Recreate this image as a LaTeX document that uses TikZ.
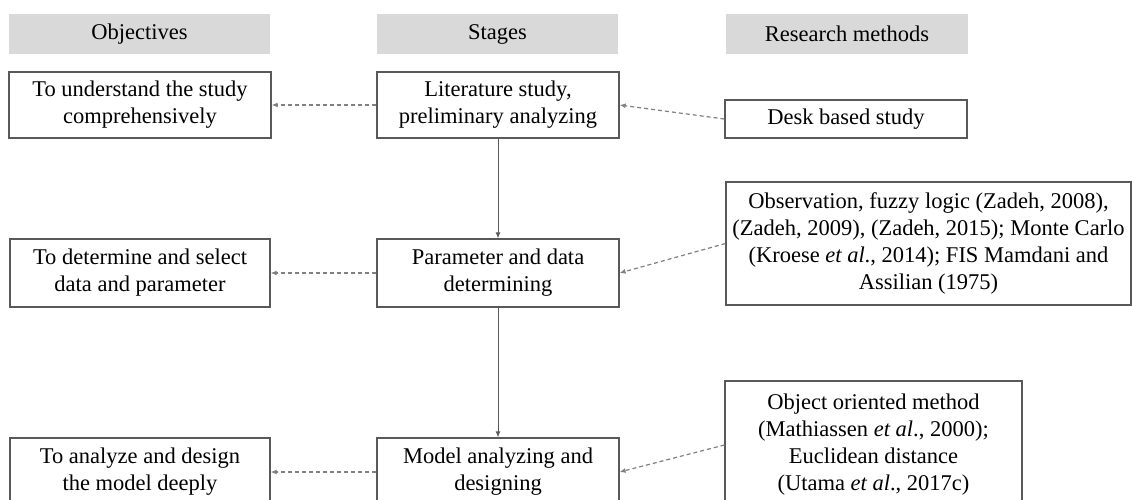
\documentclass[tikz,border=0pt]{standalone}
\usepackage{fontspec}
\setmainfont{Liberation Serif}
\usetikzlibrary{arrows.meta}
\definecolor{hdrfill}{HTML}{D9D9D9}
\definecolor{boxline}{HTML}{595959}
\definecolor{dashline}{HTML}{808080}
\tikzset{
  hdr/.style={fill=hdrfill, draw=none, inner sep=0pt, align=center,
    font=\fontsize{22.5}{27}\selectfont},
  box/.style={draw=boxline, line width=1.2pt, fill=white, inner sep=0pt,
    align=center, font=\fontsize{22.5}{27}\selectfont},
  flow/.style={draw=boxline, line width=1pt, -{Latex[length=6pt,width=5pt]}},
  link/.style={draw=dashline, line width=1.2pt, dash pattern=on 4pt off 3pt,
    -{Latex[length=6pt,width=5pt]}}
}
\begin{document}
\begin{tikzpicture}[x=1pt,y=-1pt]
\useasboundingbox (0,0) rectangle (1132,499);
\clip (0,0) rectangle (1132,499);
\fill[white] (0,0) rectangle (1132,499);
% headers
\node[hdr, minimum width=261pt, minimum height=40pt] (hobj) at (139.5,34) {Objectives};
\node[hdr, minimum width=241pt, minimum height=40pt] (hst) at (497.5,34) {Stages};
\node[hdr, minimum width=242pt, minimum height=40pt] (hres) at (847,34) {Research methods};
% row 1
\node[box, minimum width=262pt, minimum height=66pt] (obj1) at (140,105) {To understand the study\\comprehensively};
\node[box, minimum width=242pt, minimum height=66pt] (st1) at (498,105) {Literature study,\\preliminary analyzing};
\node[box, minimum width=242pt, minimum height=38pt] (res1) at (846,119) {Desk based study};
% row 2
\node[box, minimum width=260pt, minimum height=68pt] (obj2) at (140,273) {To determine and select\\data and parameter};
\node[box, minimum width=242pt, minimum height=68pt] (st2) at (498,273) {Parameter and data\\determining};
\node[box, minimum width=405pt, minimum height=123pt] (res2) at (928.5,243.5) {Observation, fuzzy logic (Zadeh, 2008),\\(Zadeh, 2009), (Zadeh, 2015); Monte Carlo\\(Kroese \textit{et al}., 2014); FIS Mamdani and\\Assilian (1975)};
% row 3
\node[box, minimum width=260pt, minimum height=68pt] (obj3) at (140,472) {To analyze and design\\the model deeply};
\node[box, minimum width=242pt, minimum height=68pt] (st3) at (498,472) {Model analyzing and\\designing};
\node[box, minimum width=297pt, minimum height=128pt] (res3) at (873.5,445) {Object oriented method\\(Mathiassen \textit{et al}., 2000);\\Euclidean distance\\(Utama \textit{et al}., 2017c)};
% connectors
\draw[flow] (st1.south) -- (st2.north);
\draw[flow] (st2.south) -- (st3.north);
\draw[link] (st1.west) -- (obj1.east);
\draw[link] (st2.west) -- (obj2.east);
\draw[link] (st3.west) -- (obj3.east);
\draw[link] (res1.west) -- (st1.east);
\draw[link] (res2.west) -- (st2.east);
\draw[link] (res3.west) -- (st3.east);
\end{tikzpicture}
\end{document}
